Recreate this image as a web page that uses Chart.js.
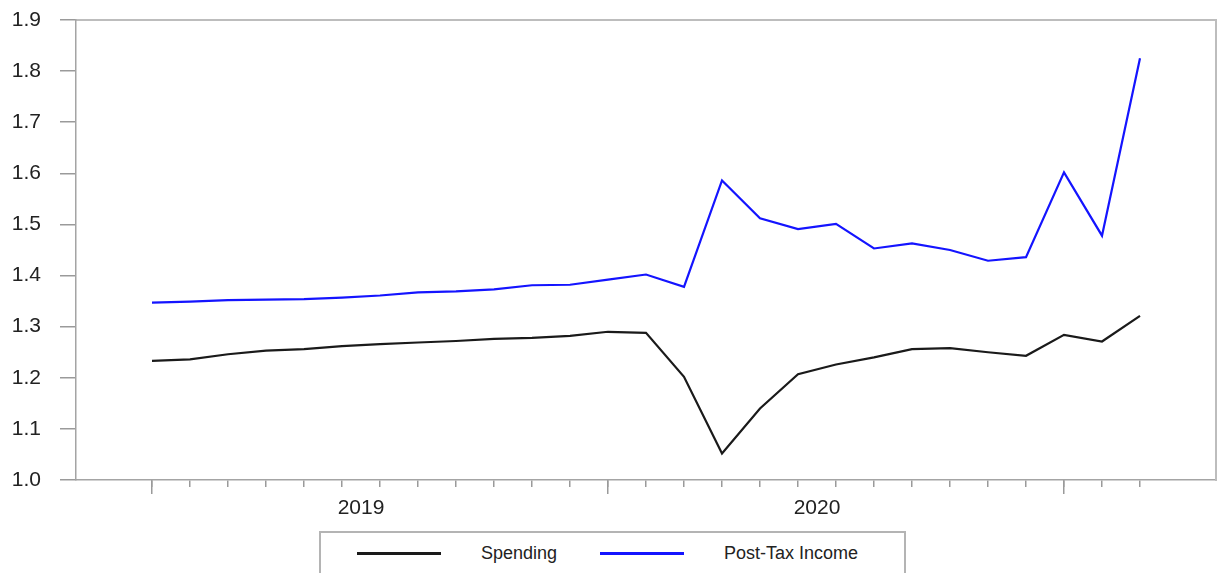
<!DOCTYPE html>
<html>
<head>
<meta charset="utf-8">
<script src="https://cdn.jsdelivr.net/npm/chart.js@4.4.1/dist/chart.umd.min.js"></script>
<style>
html,body{margin:0;padding:0;background:#fff;}
#wrap{position:relative;width:1218px;height:573px;overflow:hidden;}
#legend{position:absolute;left:319px;top:531px;width:587px;height:70px;box-sizing:border-box;border:2px solid #b4b4b4;background:#fff;font-family:"Liberation Sans",Arial,sans-serif;font-size:18px;color:#222;}
#legend .ln{position:absolute;height:3px;}
#legend .tx{position:absolute;line-height:20px;white-space:nowrap;}
</style>
</head>
<body>
<div id="wrap">
<canvas id="c" width="1218" height="573"></canvas>
<div id="legend"></div>
</div>
<script>
// ---- data ----
const months = ['2019-01','2019-02','2019-03','2019-04','2019-05','2019-06','2019-07','2019-08','2019-09','2019-10','2019-11','2019-12',
                '2020-01','2020-02','2020-03','2020-04','2020-05','2020-06','2020-07','2020-08','2020-09','2020-10','2020-11','2020-12',
                '2021-01','2021-02','2021-03'];
const spending = [1.233,1.236,1.246,1.253,1.256,1.262,1.266,1.269,1.272,1.276,1.278,1.282,
                  1.290,1.288,1.202,1.052,1.140,1.207,1.226,1.240,1.256,1.258,1.250,1.243,
                  1.284,1.271,1.321];
const income   = [1.347,1.349,1.352,1.353,1.354,1.357,1.361,1.367,1.369,1.373,1.381,1.382,
                  1.392,1.402,1.378,1.586,1.512,1.491,1.501,1.453,1.463,1.450,1.429,1.436,
                  1.602,1.478,1.825];
const seriesNames = ['Spending','Post-Tax Income'];
const seriesColors = ['#1a1a1a','#1414ff'];
const yTicks = [1.0,1.1,1.2,1.3,1.4,1.5,1.6,1.7,1.8,1.9];
const years = ['2019','2020'];

// ---- derived ----
const yearStart = years.map(y => months.indexOf(y + '-01'));
const yearCenters = yearStart.map(i => i + 5.5);
const janIdx = months.map((m,i)=> m.endsWith('-01') ? i : -1).filter(i => i >= 0);
const monthIdx = months.map((m,i)=>i);

const axisColor = '#a4a4a4';
const tickColor = '#9a9a9a';
const font = {family:'"Liberation Sans", Arial, sans-serif', size:21};

const htmlLegend = {
  id:'htmlLegend',
  afterUpdate(chart){
    const box = document.getElementById('legend');
    box.innerHTML = '';
    const pos = [{line:36, w:84, text:160},{line:279, w:84, text:403}];
    chart.data.datasets.forEach((ds,i)=>{
      const l = document.createElement('div');
      l.className='ln'; l.style.left=pos[i].line+'px'; l.style.top='19px';
      l.style.width=pos[i].w+'px'; l.style.background=ds.borderColor;
      const t = document.createElement('div');
      t.className='tx'; t.style.left=pos[i].text+'px'; t.style.top='10px';
      t.textContent = ds.label;
      box.appendChild(l); box.appendChild(t);
    });
  }
};

new Chart(document.getElementById('c'), {
  type:'line',
  data:{
    datasets:[
      {label:seriesNames[0], data:months.map((m,i)=>({x:i,y:spending[i]})), borderColor:seriesColors[0], borderWidth:2.2, pointRadius:0, tension:0, fill:false},
      {label:seriesNames[1], data:months.map((m,i)=>({x:i,y:income[i]})), borderColor:seriesColors[1], borderWidth:2.2, pointRadius:0, tension:0, fill:false}
    ]
  },
  options:{
    responsive:false, animation:false, devicePixelRatio:1,
    layout:{padding:{left:12, top:20, right:2, bottom:53}},
    plugins:{legend:{display:false}, tooltip:{enabled:false}},
    scales:{
      x:{
        type:'linear', position:'bottom', min:-2, max:28,
        afterBuildTicks(ax){ ax.ticks = monthIdx.concat(yearCenters).sort((a,b)=>a-b).map(v=>({value:v})); },
        afterFit(ax){ ax.height = 40; ax.paddingLeft = 0; ax.paddingRight = 0; },
        grid:{drawOnChartArea:false, drawTicks:true, tickLength:7, lineWidth:1.5,
              color:(ctx)=> (ctx.tick && !Number.isInteger(ctx.tick.value)) ? 'rgba(0,0,0,0)' : tickColor},
        border:{display:true, color:axisColor, width:1.5},
        ticks:{autoSkip:false, maxRotation:0, minRotation:0, padding:9, color:'#222', font:font,
               callback:(v)=>{ const k = yearCenters.indexOf(v); return k>=0 ? years[k] : ''; }}
      },
      xLong:{
        type:'linear', axis:'x', position:{y:1.0}, min:-2, max:28,
        afterBuildTicks(ax){ ax.ticks = janIdx.map(v=>({value:v})); },
        grid:{drawOnChartArea:false, drawTicks:true, tickLength:14, color:tickColor, lineWidth:1.5},
        border:{display:false},
        ticks:{display:false}
      },
      x2:{
        type:'linear', position:'top', min:-2, max:28,
        afterFit(ax){ ax.height = 0; },
        grid:{display:false, drawTicks:false}, ticks:{display:false},
        border:{display:true, color:'#bdbdbd', width:2}
      },
      y:{
        type:'linear', min:1.0, max:1.9,
        afterBuildTicks(ax){ ax.ticks = yTicks.map(v=>({value:v})); },
        afterFit(ax){ ax.width = 64; ax.paddingTop = 0; ax.paddingBottom = 0; },
        grid:{drawOnChartArea:false, drawTicks:true, tickLength:16, color:tickColor, lineWidth:1.5},
        border:{display:true, color:axisColor, width:1.5},
        ticks:{padding:19, color:'#222', font:font, callback:(v)=>Number(v).toFixed(1)}
      },
      y2:{
        type:'linear', position:'right', min:1.0, max:1.9,
        afterFit(ax){ ax.width = 0; },
        grid:{display:false, drawTicks:false}, ticks:{display:false},
        border:{display:true, color:'#bdbdbd', width:2}
      }
    }
  },
  plugins:[htmlLegend]
});
</script>
</body>
</html>
